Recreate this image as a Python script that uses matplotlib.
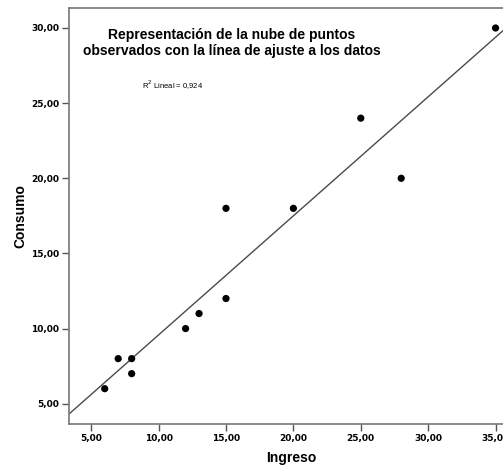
import numpy as np
import matplotlib
matplotlib.use("Agg")
import matplotlib.pyplot as plt
from matplotlib.ticker import FuncFormatter

ingreso = [6, 7, 8, 8, 12, 13, 15, 15, 20, 25, 28, 35]
consumo = [6, 8, 8, 7, 10, 11, 12, 18, 18, 24, 20, 30]
x_ticks = [5, 10, 15, 20, 25, 30, 35]
y_ticks = [5, 10, 15, 20, 25, 30]

plt.rcParams['font.family'] = ['Liberation Sans', 'DejaVu Sans']

fig = plt.figure(figsize=(5.03, 4.66), dpi=100)
ax = fig.add_axes([69/503, 1-424/466, 1.02 - 69/503, (424-8)/466])

x = np.array(ingreso, dtype=float)
y = np.array(consumo, dtype=float)
slope, intercept = np.polyfit(x, y, 1)
r2 = np.corrcoef(x, y)[0, 1] ** 2

xlim = (3.35, 36.3)
ax.set_xlim(*xlim)
ax.set_ylim(3.65, 31.33)
xl = np.array(xlim)
ax.plot(xl, slope * xl + intercept, color='#4a4a4a', lw=1.0, zorder=2)
ax.scatter(x, y, s=27, color='black', zorder=3, edgecolors='none')

ax.set_xticks(x_ticks)
ax.set_yticks(y_ticks)
fmt = FuncFormatter(lambda v, p: f"{v:.2f}".replace('.', ','))
ax.xaxis.set_major_formatter(fmt)
ax.yaxis.set_major_formatter(fmt)
for lab in ax.get_xticklabels() + ax.get_yticklabels():
    lab.set_fontweight('bold')
    lab.set_fontsize(6.5)
    lab.set_family(['DejaVu Sans'])
ax.tick_params(direction='out', length=5, width=1, color='#555555', pad=2)
for s in ['left', 'bottom', 'top']:
    ax.spines[s].set_color('#777777')
    ax.spines[s].set_linewidth(1.2)
ax.spines['right'].set_visible(False)

ax.set_xlabel('Ingreso', fontsize=10, fontweight='bold', labelpad=6)
ax.set_ylabel('Consumo', fontsize=10, fontweight='bold', labelpad=3)

fig.text(232/503, 1 - 43/466,
         'Representación de la nube de puntos\nobservados con la línea de ajuste a los datos',
         ha='center', va='center', fontsize=10, fontweight='bold', linespacing=1.1)
fig.text(142/503, 1 - 85/466, f"R$^2$ Lineal = {r2:.3f}".replace('.', ','),
         ha='left', va='center', fontsize=5.5)

fig.savefig('out.png', dpi=100)
